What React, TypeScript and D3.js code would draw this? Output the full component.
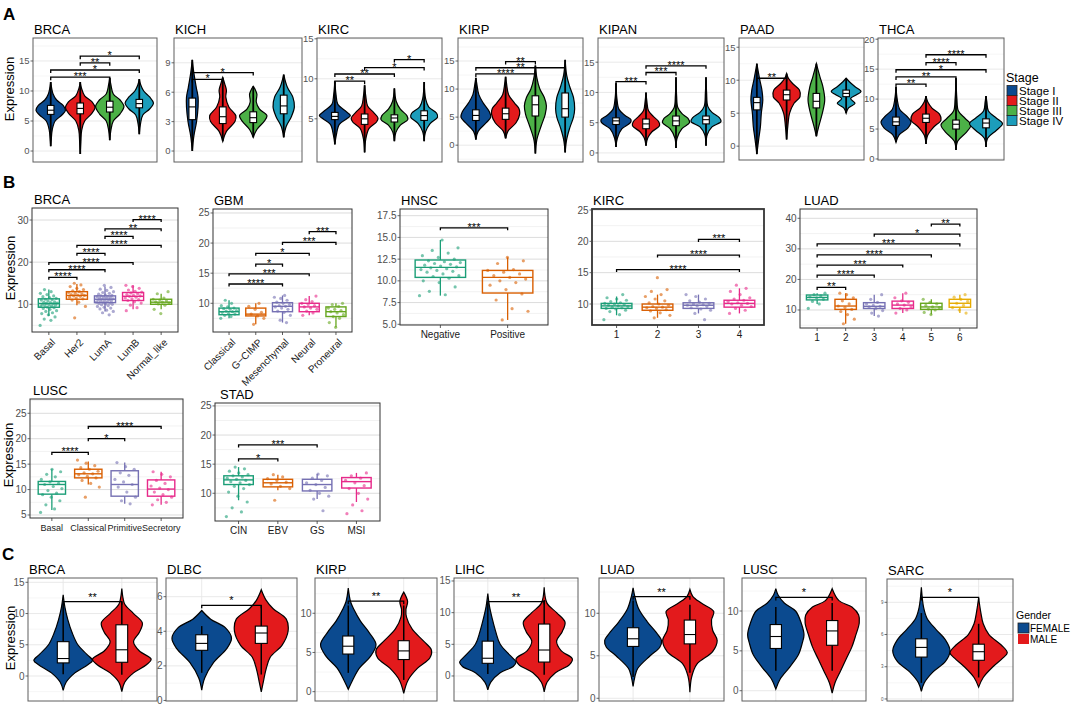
import React from "react";
import * as d3 from "d3";

type Prof = [number, number][];
type Box3 = [number, number, number];
type Br = [number, number, number, string];
type Lay = { x0: number; x1: number; y0: number; y1: number; domain: [number, number] };

const FONT = "'Liberation Sans', Arial, Helvetica, sans-serif";

// ---------- shared categories / colours ----------
const STAGES = ["Stage I", "Stage II", "Stage III", "Stage IV"];
const STAGE_COLORS = ["#0b4a8f", "#e31a1c", "#4cb147", "#1c9dbb"];
const GENDERS = ["FEMALE", "MALE"];
const GENDER_COLORS = ["#0b4a8f", "#e31a1c"];
const DARK2 = ["#1b9e77", "#d95f02", "#7570b3", "#e7298a", "#66a61e", "#e6ab02"];

// ================= PANEL A (stage, violins) =================
const aTitles = ["BRCA", "KICH", "KIRC", "KIRP", "KIPAN", "PAAD", "THCA"];
const aTicks = [[0, 5, 10, 15], [0, 3, 6, 9], [5, 10, 15], [0, 5, 10, 15], [0, 5, 10, 15], [0, 5, 10, 15], [0, 5, 10, 15, 20]];

const aBrcaShapes: Prof[] = [
  [[0.8, 0], [2, 0.02], [3.5, 0.05], [5, 0.15], [6, 0.38], [6.8, 0.5], [7.6, 0.42], [8.5, 0.2], [9.5, 0.08], [11.5, 0]],
  [[-0.5, 0], [1.5, 0.02], [3.5, 0.05], [5, 0.15], [6.2, 0.38], [7.2, 0.5], [8.2, 0.4], [9.2, 0.15], [10.5, 0.04], [11.5, 0]],
  [[1.8, 0], [3.5, 0.04], [5, 0.12], [6.2, 0.35], [7.4, 0.48], [8.5, 0.35], [9.5, 0.12], [11, 0.04], [12.2, 0]],
  [[2.8, 0], [4.5, 0.04], [6, 0.12], [7, 0.35], [8, 0.48], [9, 0.35], [10, 0.15], [11, 0.05], [12, 0]],
];
const aBrcaBoxes: Box3[] = [[6.1, 6.8, 7.6], [6.2, 7.1, 8.0], [6.5, 7.3, 8.3], [7.2, 7.9, 8.6]];
const aBrcaBrackets: Br[] = [[0, 2, 12.3, "***"], [0, 3, 13.5, "*"], [1, 2, 14.7, "**"], [1, 3, 15.8, "*"]];

const aKichShapes: Prof[] = [
  [[0, 0], [1.5, 0.05], [3, 0.14], [4.5, 0.19], [5.5, 0.19], [6.5, 0.13], [8, 0.05], [9.3, 0]],
  [[1, 0], [2, 0.12], [3, 0.4], [3.6, 0.43], [4.5, 0.2], [5.5, 0.1], [6.2, 0.12], [6.8, 0.07], [7.5, 0]],
  [[1.4, 0], [2.2, 0.12], [3, 0.35], [3.6, 0.45], [4.3, 0.2], [5, 0.1], [5.8, 0.12], [6.3, 0.06], [6.6, 0]],
  [[1.4, 0], [2.5, 0.08], [3.5, 0.25], [4.5, 0.35], [5.5, 0.3], [6.5, 0.12], [7.8, 0]],
];
const aKichBoxes: Box3[] = [[3.2, 4.5, 5.4], [2.8, 3.5, 4.5], [2.9, 3.4, 4.0], [3.8, 4.6, 5.7]];
const aKichBrackets: Br[] = [[0, 1, 7.3, "*"], [0, 2, 8.0, "*"]];

const aKircShapes: Prof[] = [
  [[1.8, 0], [3, 0.05], [4.3, 0.15], [5, 0.4], [5.4, 0.52], [6, 0.35], [6.8, 0.1], [8, 0.04], [9.7, 0]],
  [[0.8, 0], [2.5, 0.04], [3.8, 0.15], [4.6, 0.4], [5.1, 0.45], [5.8, 0.3], [6.6, 0.1], [7.8, 0.04], [9.2, 0]],
  [[2.2, 0], [3.3, 0.05], [4.2, 0.2], [4.9, 0.45], [5.4, 0.42], [6.2, 0.2], [7.2, 0.06], [8.8, 0]],
  [[2.2, 0], [3.4, 0.05], [4.4, 0.2], [5.2, 0.45], [5.7, 0.42], [6.5, 0.15], [7.5, 0.05], [9.6, 0]],
];
const aKircBoxes: Box3[] = [[4.9, 5.3, 5.8], [4.3, 5.0, 5.6], [4.6, 5.1, 5.5], [4.8, 5.4, 6.0]];
const aKircBrackets: Br[] = [[0, 1, 9.7, "**"], [0, 2, 10.6, "**"], [1, 3, 11.4, "*"], [2, 3, 12.4, "*"]];

const aKirpShapes: Prof[] = [
  [[1, 0], [2.5, 0.08], [4, 0.35], [5, 0.5], [6, 0.45], [7.5, 0.25], [9, 0.1], [11, 0.03], [12, 0]],
  [[1.2, 0], [2.5, 0.08], [4, 0.35], [5.5, 0.47], [6.5, 0.45], [7.5, 0.3], [9, 0.1], [11, 0.03], [12.2, 0]],
  [[-1.5, 0], [1, 0.05], [3.5, 0.2], [5.5, 0.33], [7, 0.37], [8.5, 0.3], [10, 0.15], [12, 0.05], [14.2, 0]],
  [[-1.3, 0], [1, 0.05], [3, 0.15], [5, 0.28], [6.5, 0.32], [8.5, 0.28], [10.5, 0.15], [12.5, 0.05], [15.2, 0]],
];
const aKirpBoxes: Box3[] = [[4.4, 5.3, 6.3], [4.6, 5.6, 6.6], [5.2, 7.2, 8.8], [5.0, 6.5, 9.3]];
const aKirpBrackets: Br[] = [[0, 2, 12.7, "****"], [0, 3, 13.8, "**"], [1, 2, 14.9, "**"]];

const aKipanShapes: Prof[] = [
  [[1, 0], [2.5, 0.05], [4, 0.2], [5, 0.48], [5.5, 0.5], [6.2, 0.3], [7.2, 0.1], [9, 0.03], [11.5, 0]],
  [[1.2, 0], [2.5, 0.06], [3.5, 0.2], [4.5, 0.45], [5.2, 0.42], [6, 0.25], [7, 0.08], [8.5, 0.03], [10, 0]],
  [[0.8, 0], [2.5, 0.04], [4, 0.2], [5, 0.45], [5.7, 0.4], [6.5, 0.2], [7.5, 0.06], [9.5, 0.02], [12.5, 0]],
  [[1.2, 0], [3, 0.04], [4.3, 0.2], [5.2, 0.5], [5.8, 0.45], [6.7, 0.2], [7.7, 0.06], [10, 0.02], [12.5, 0]],
];
const aKipanBoxes: Box3[] = [[4.7, 5.3, 5.8], [4.0, 4.8, 5.6], [4.5, 5.3, 6.1], [4.8, 5.5, 6.1]];
const aKipanBrackets: Br[] = [[0, 1, 11.8, "***"], [1, 2, 13.3, "***"], [1, 3, 14.4, "****"]];

const aPaadShapes: Prof[] = [
  [[-1.2, 0], [1, 0.06], [3, 0.12], [5, 0.15], [7, 0.2], [8.5, 0.17], [10, 0.1], [12.5, 0]],
  [[1, 0], [3, 0.04], [5, 0.1], [6.5, 0.25], [7.5, 0.45], [8.5, 0.43], [9.5, 0.2], [10.3, 0.06], [11, 0]],
  [[1.5, 0], [3, 0.08], [5, 0.2], [7, 0.28], [9, 0.22], [10.5, 0.12], [12.5, 0]],
  [[5, 0], [5.8, 0.08], [6.5, 0.3], [7.2, 0.15], [7.8, 0.35], [8.3, 0.5], [9, 0.3], [9.8, 0.1], [10.3, 0]],
];
const aPaadBoxes: Box3[] = [[5.5, 6.6, 7.4], [7.0, 7.8, 8.5], [5.8, 6.8, 8.0], [7.5, 8.0, 8.5]];
const aPaadBrackets: Br[] = [[0, 1, 10.3, "**"]];

const aThcaShapes: Prof[] = [
  [[2.8, 0], [4, 0.1], [5.2, 0.4], [6.2, 0.5], [7.2, 0.35], [8.3, 0.12], [10, 0.04], [12, 0]],
  [[2.5, 0], [4, 0.06], [5.3, 0.25], [6.5, 0.5], [7.5, 0.45], [8.5, 0.2], [9.5, 0.06], [10.5, 0]],
  [[1.5, 0], [3, 0.06], [4.5, 0.35], [5.7, 0.5], [6.8, 0.3], [8, 0.08], [10, 0.03], [13.5, 0]],
  [[2, 0], [3.5, 0.06], [4.8, 0.35], [5.9, 0.55], [6.8, 0.35], [8, 0.08], [9.5, 0.03], [10.5, 0]],
];
const aThcaBoxes: Box3[] = [[5.6, 6.2, 7.0], [6.1, 6.8, 7.5], [5.0, 5.8, 6.5], [5.2, 6.0, 6.7]];
const aThcaBrackets: Br[] = [[0, 1, 12.5, "**"], [0, 2, 13.7, "**"], [0, 3, 14.9, "*"], [1, 2, 16.1, "****"], [1, 3, 17.4, "****"]];

const aShapes = [aBrcaShapes, aKichShapes, aKircShapes, aKirpShapes, aKipanShapes, aPaadShapes, aThcaShapes];
const aBoxes = [aBrcaBoxes, aKichBoxes, aKircBoxes, aKirpBoxes, aKipanBoxes, aPaadBoxes, aThcaBoxes];
const aBrackets = [aBrcaBrackets, aKichBrackets, aKircBrackets, aKirpBrackets, aKipanBrackets, aPaadBrackets, aThcaBrackets];

// ================= PANEL B (subtypes, box + jitter) =================
const bBrcaCats = ["Basal", "Her2", "LumA", "LumB", "Normal_like"];
const bBrcaBoxes: Box3[] = [[9.3, 10.2, 11.3], [11.2, 12.1, 13.0], [10.4, 11.2, 12.0], [10.9, 11.9, 12.8], [10.0, 10.5, 11.2]];
const bBrcaWhisk: [number, number][] = [[7.2, 13.5], [9.8, 14.8], [8.3, 14.2], [8.8, 14.5], [8.8, 12.5]];
const bBrcaPoints: number[][] = [
  [5, 6.2, 6.5, 7, 7.5, 7.8, 8, 8.3, 8.5, 8.8, 9, 9.2, 9.3, 9.5, 9.6, 9.7, 9.8, 9.9, 10, 10.1, 10.2, 10.3, 10.4, 10.5, 10.6, 10.8, 11, 11.1, 11.2, 11.4, 11.6, 11.8, 12, 12.3, 12.6, 13, 13.5],
  [6.8, 9.5, 10.5, 11, 11.3, 11.5, 11.7, 11.9, 12, 12.1, 12.2, 12.3, 12.5, 12.6, 12.8, 13, 13.2, 13.5, 13.8, 14.2, 14.6, 15],
  [7.5, 8, 8.3, 8.6, 8.9, 9.1, 9.3, 9.5, 9.7, 9.9, 10, 10.1, 10.2, 10.3, 10.4, 10.5, 10.6, 10.7, 10.8, 10.9, 11, 11.1, 11.2, 11.3, 11.4, 11.5, 11.6, 11.7, 11.8, 11.9, 12, 12.1, 12.2, 12.4, 12.6, 12.8, 13, 13.3, 13.6, 14, 14.5],
  [8.5, 9.2, 9.8, 10.3, 10.6, 10.9, 11.1, 11.3, 11.5, 11.7, 11.9, 12, 12.1, 12.3, 12.5, 12.7, 12.9, 13.1, 13.4, 13.8, 14.2, 14.5],
  [7.8, 8.8, 9.8, 10.1, 10.3, 10.5, 10.6, 10.8, 11, 11.2, 11.5, 12.5, 13],
];
const bBrcaBrackets: Br[] = [[0, 1, 16.4, "****"], [0, 2, 18.2, "****"], [0, 3, 19.9, "****"], [1, 2, 22.1, "****"], [1, 4, 24.0, "****"], [2, 3, 26.1, "****"], [2, 4, 27.9, "**"], [3, 4, 30.1, "****"]];

const bGbmCats = ["Classical", "G\u2212CIMP", "Mesenchymal", "Neural", "Proneural"];
const bGbmBoxes: Box3[] = [[8.1, 8.6, 9.2], [7.9, 8.2, 9.2], [8.6, 9.5, 10.1], [8.6, 9.4, 10.0], [7.8, 8.6, 9.4]];
const bGbmWhisk: [number, number][] = [[7.5, 10.5], [6.5, 10], [6.8, 11.3], [8, 11.2], [6, 10]];
const bGbmPoints: number[][] = [
  [7.5, 7.8, 8, 8.2, 8.3, 8.5, 8.6, 8.7, 8.8, 9, 9.1, 9.2, 9.4, 9.6, 10, 10.5],
  [6.5, 7.5, 7.9, 8.2, 8.5, 9, 9.5, 10],
  [6.8, 7.2, 8, 8.5, 8.7, 9, 9.2, 9.4, 9.5, 9.6, 9.8, 10, 10.2, 10.5, 10.8, 11, 11.3],
  [8, 8.4, 8.7, 9, 9.2, 9.4, 9.6, 9.8, 10, 10.3, 10.6, 11.2],
  [6, 6.8, 7.5, 7.8, 8.1, 8.4, 8.6, 8.8, 9, 9.2, 9.5, 9.8, 10],
];
const bGbmBrackets: Br[] = [[0, 2, 13.2, "****"], [0, 3, 14.9, "***"], [1, 2, 16.5, "*"], [1, 3, 18.3, "*"], [2, 4, 20.1, "***"], [3, 4, 21.9, "***"]];

const bHnscCats = ["Negative", "Positive"];
const bHnscBoxes: Box3[] = [[10.4, 11.55, 12.4], [8.6, 10.4, 11.2]];
const bHnscWhisk: [number, number][] = [[8.3, 14.7], [5.5, 12.7]];
const bHnscPoints: number[][] = [
  [8.3, 8.4, 8.8, 9.3, 9.8, 10, 10.3, 10.5, 10.6, 10.8, 11, 11.1, 11.2, 11.3, 11.4, 11.5, 11.6, 11.7, 11.8, 11.9, 12, 12.1, 12.2, 12.3, 12.5, 12.7, 12.9, 13.2, 13.5, 13.8, 14.7],
  [5.5, 6.5, 6.8, 7.8, 8.5, 9, 9.5, 9.8, 10, 10.2, 10.4, 10.6, 10.8, 11, 11.2, 11.3, 12, 12.3, 12.7],
];
const bHnscBrackets: Br[] = [[0, 1, 16.1, "***"]];

const bKircCats = ["1", "2", "3", "4"];
const bKircBoxes: Box3[] = [[9.3, 9.7, 10.1], [9.0, 9.5, 10.0], [9.3, 9.8, 10.2], [9.5, 10.1, 10.6]];
const bKircWhisk: [number, number][] = [[8.2, 11.2], [7.8, 11.5], [8.5, 11.5], [8.5, 12.5]];
const bKircPoints: number[][] = [
  [7.5, 8.3, 8.8, 9, 9.2, 9.3, 9.4, 9.5, 9.6, 9.7, 9.8, 9.9, 10, 10.1, 10.2, 10.4, 10.6, 10.8, 11, 11.5],
  [7.8, 8.2, 8.6, 8.9, 9.1, 9.3, 9.4, 9.5, 9.6, 9.8, 10, 10.2, 10.5, 10.8, 11.2, 11.5, 12, 12.3, 14.2],
  [7.5, 8.5, 9, 9.2, 9.4, 9.6, 9.7, 9.8, 9.9, 10, 10.1, 10.3, 10.5, 10.8, 11.2, 11.5],
  [8.5, 9, 9.3, 9.6, 9.8, 10, 10.1, 10.2, 10.4, 10.6, 10.8, 11, 11.5, 12, 12.5, 13],
];
const bKircBrackets: Br[] = [[0, 3, 15.5, "****"], [1, 3, 17.8, "****"], [2, 3, 20.3, "***"]];

const bLuadCats = ["1", "2", "3", "4", "5", "6"];
const bLuadBoxes: Box3[] = [[13.3, 14.1, 14.9], [10.2, 11.3, 13.5], [10.5, 11.2, 12.4], [10.5, 11.6, 12.9], [10.2, 11.0, 12.2], [10.9, 12.2, 13.5]];
const bLuadWhisk: [number, number][] = [[12, 15.5], [5.5, 15.5], [8, 15], [9, 15.5], [8.5, 13.5], [9, 15]];
const bLuadPoints: number[][] = [
  [10.5, 12, 12.8, 13.5, 14, 14.3, 14.6, 15, 15.5],
  [5.5, 7, 8.5, 9.5, 10.2, 10.8, 11.3, 12, 13, 14, 15, 15.5],
  [8, 9, 9.8, 10.5, 11, 11.2, 11.5, 12, 12.5, 13.5, 15],
  [9, 10, 10.5, 11, 11.6, 12, 12.5, 13, 14, 15.5],
  [8.5, 9.2, 10, 10.3, 10.8, 11, 11.5, 12, 12.5, 13.5],
  [9, 10, 10.8, 11.5, 12.2, 12.8, 13.5, 14.2, 15],
];
const bLuadBrackets: Br[] = [[0, 1, 17.4, "**"], [0, 2, 21.4, "****"], [0, 3, 24.7, "***"], [0, 4, 28.0, "****"], [0, 5, 31.6, "***"], [2, 5, 34.8, "*"], [4, 5, 38.1, "**"]];

const bLuscCats = ["Basal", "Classical", "Primitive", "Secretory"];
const bLuscBoxes: Box3[] = [[9.1, 11.0, 11.6], [12.3, 13.1, 14.0], [8.7, 11.0, 13.7], [8.7, 10.1, 11.9]];
const bLuscWhisk: [number, number][] = [[6, 14], [11, 15.5], [7.2, 15.3], [7, 13.5]];
const bLuscPoints: number[][] = [
  [5.5, 6.2, 7, 7.8, 8.5, 9, 9.3, 9.8, 10.2, 10.6, 11, 11.2, 11.5, 12, 12.5, 13, 13.5, 14],
  [8.5, 10.5, 11.2, 11.8, 12.3, 12.6, 12.9, 13.1, 13.3, 13.6, 14, 14.3, 14.7, 15.2, 15.8],
  [7.2, 7.8, 8.5, 9.5, 10.5, 11, 11.5, 12, 12.8, 13.3, 14, 14.5, 15.3],
  [7, 7.5, 8, 8.5, 9, 9.5, 10, 10.3, 10.7, 11.2, 11.8, 12.5, 13, 13.5],
];
const bLuscBrackets: Br[] = [[0, 1, 17.3, "****"], [1, 2, 20.0, "*"], [1, 3, 22.4, "****"]];

const bStadCats = ["CIN", "EBV", "GS", "MSI"];
const bStadBoxes: Box3[] = [[11.5, 12.3, 13.0], [11.1, 11.8, 12.4], [10.4, 11.5, 12.4], [10.9, 12.0, 12.7]];
const bStadWhisk: [number, number][] = [[8.8, 14.5], [10.5, 13.2], [9, 13.3], [8.5, 13.5]];
const bStadPoints: number[][] = [
  [6, 6.8, 7.5, 8.5, 9.5, 10.2, 10.8, 11.2, 11.5, 11.8, 12, 12.2, 12.4, 12.6, 12.8, 13, 13.2, 13.5, 13.8, 14.2, 14.5],
  [8.8, 10.8, 11.2, 11.6, 11.9, 12.2, 12.5, 12.8, 13.2],
  [7, 9, 9.5, 10, 10.5, 11, 11.5, 11.8, 12.2, 12.6, 13, 13.3],
  [6.5, 7, 8, 9, 10, 10.8, 11.3, 11.8, 12.2, 12.6, 13, 13.5],
];
const bStadBrackets: Br[] = [[0, 1, 15.9, "*"], [0, 2, 18.3, "***"]];

// ================= PANEL C (gender, violins) =================
const cTitles = ["BRCA", "DLBC", "KIRP", "LIHC", "LUAD", "LUSC", "SARC"];
const cTicks = [[0, 5, 10, 15], [0, 2, 4, 6], [0, 5, 10], [0, 5, 10, 15], [0, 5, 10], [0, 5, 10], [0, 3, 6, 9]];
const cShapes: Prof[][] = [
  [
    [[-2.3, 0], [-1, 0.05], [0.5, 0.2], [1.8, 0.42], [2.5, 0.5], [3.5, 0.4], [5, 0.25], [7, 0.15], [9, 0.08], [11, 0.03], [13, 0]],
    [[-2.5, 0], [-1, 0.05], [0.5, 0.2], [1.8, 0.42], [2.7, 0.5], [4, 0.3], [5.5, 0.2], [7, 0.3], [8.5, 0.35], [10, 0.2], [11.5, 0.05], [12.5, 0.02], [14, 0]],
  ],
  [
    [[0.6, 0], [1.3, 0.05], [2.2, 0.2], [3, 0.42], [3.6, 0.5], [4.2, 0.4], [4.7, 0.15], [5.2, 0]],
    [[0.5, 0], [1, 0.03], [1.8, 0.08], [2.5, 0.15], [3.2, 0.35], [4, 0.45], [4.7, 0.42], [5.3, 0.2], [5.8, 0.08], [6.4, 0]],
  ],
  [
    [[0.3, 0], [1.5, 0.08], [3, 0.2], [4.5, 0.4], [6, 0.5], [7.5, 0.38], [9, 0.22], [10.5, 0.1], [11.5, 0.04], [13.2, 0]],
    [[-0.2, 0], [1.5, 0.08], [3, 0.25], [4.3, 0.47], [5.3, 0.5], [6.5, 0.35], [8, 0.15], [9.5, 0.05], [10.5, 0.04], [11.5, 0.07], [12.7, 0]],
  ],
  [
    [[-2.2, 0], [-1, 0.05], [0.5, 0.22], [1.5, 0.45], [2.2, 0.5], [3.2, 0.4], [5, 0.22], [7, 0.14], [9, 0.08], [11, 0.03], [13, 0]],
    [[-2.5, 0], [-1, 0.05], [0.5, 0.2], [1.8, 0.45], [2.7, 0.5], [4, 0.3], [5.5, 0.22], [7, 0.32], [8.5, 0.37], [10, 0.22], [11.5, 0.05], [14, 0]],
  ],
  [
    [[1.4, 0], [2.5, 0.03], [3.5, 0.08], [5, 0.3], [6, 0.47], [6.8, 0.5], [7.8, 0.4], [9, 0.25], [10.5, 0.1], [12, 0.03], [13, 0]],
    [[0.7, 0], [2.5, 0.03], [4, 0.12], [5.5, 0.4], [6.8, 0.48], [8, 0.4], [9.2, 0.38], [10.2, 0.42], [11.2, 0.2], [12, 0.05], [12.8, 0]],
  ],
  [
    [[0.2, 0], [1.5, 0.08], [3, 0.25], [4.5, 0.4], [6, 0.47], [7, 0.5], [8.5, 0.45], [10, 0.35], [11, 0.15], [12, 0.04], [12.8, 0]],
    [[-0.3, 0], [1, 0.05], [2.5, 0.15], [4, 0.25], [5.5, 0.35], [7, 0.42], [8.5, 0.48], [9.5, 0.47], [10.5, 0.35], [11.3, 0.12], [12.8, 0]],
  ],
  [
    [[0.7, 0], [1.5, 0.05], [2.5, 0.2], [3.5, 0.42], [4.5, 0.5], [5.5, 0.42], [6.5, 0.25], [7.5, 0.1], [8.5, 0.04], [10.4, 0]],
    [[1.1, 0], [2, 0.08], [3, 0.25], [3.8, 0.42], [4.3, 0.5], [5, 0.4], [6, 0.18], [7, 0.08], [8, 0.04], [9.4, 0]],
  ],
];
const cBoxes: Box3[][] = [
  [[2.1, 2.8, 5.5], [2.2, 4.2, 8.2]],
  [[2.9, 3.3, 3.8], [3.3, 3.9, 4.3]],
  [[4.8, 5.8, 7.1], [4.1, 5.2, 6.5]],
  [[2.0, 2.8, 5.5], [2.2, 4.1, 8.2]],
  [[6.1, 7.0, 8.3], [6.4, 7.5, 9.2]],
  [[5.3, 6.8, 8.3], [5.7, 7.5, 8.8]],
  [[3.9, 4.8, 5.6], [3.6, 4.4, 5.1]],
];
const cWhisk: [number, number][][] = [
  [[0.3, 11.6], [0.2, 11.9]],
  [[1.6, 4.3], [1.5, 5.5]],
  [[2.4, 11], [1.5, 11]],
  [[0.3, 11.5], [0.2, 12]],
  [[2.5, 11.5], [3, 11]],
  [[2.5, 10.5], [2.5, 11]],
  [[1.5, 8], [2, 7]],
];
const cBrackets: Br[][] = [
  [[0, 1, 11.9, "**"]], [[0, 1, 5.5, "*"]], [[0, 1, 11.55, "**"]], [[0, 1, 11.75, "**"]],
  [[0, 1, 11.95, "**"]], [[0, 1, 11.7, "*"]], [[0, 1, 9.45, "*"]],
];

// ================= layout (positions only) =================
const aLayout: Lay[] = [
  { x0: 33, x1: 157, y0: 38, y1: 162, domain: [-1.83, 18.83] },
  { x0: 174, x1: 302, y0: 38, y1: 162, domain: [-1.12, 11.53] },
  { x0: 317, x1: 442, y0: 38, y1: 162, domain: [-0.4, 15.1] },
  { x0: 458, x1: 583, y0: 38, y1: 162, domain: [-3.0, 19.1] },
  { x0: 598, x1: 724, y0: 38, y1: 162, domain: [-1.5, 19.0] },
  { x0: 739, x1: 864, y0: 38, y1: 160, domain: [-2.1, 16.4] },
  { x0: 878, x1: 1004, y0: 38, y1: 160, domain: [-0.17, 20.2] },
];
const cLayout: Lay[] = [
  { x0: 28, x1: 157, y0: 578, y1: 701, domain: [-4.0, 15.69] },
  { x0: 166, x1: 297, y0: 578, y1: 701, domain: [-0.03, 7.08] },
  { x0: 315, x1: 437, y0: 578, y1: 701, domain: [-1.19, 14.5] },
  { x0: 454, x1: 578, y0: 578, y1: 701, domain: [-3.95, 15.47] },
  { x0: 599, x1: 724, y0: 578, y1: 701, domain: [-0.32, 14.15] },
  { x0: 742, x1: 866, y0: 578, y1: 701, domain: [-1.29, 14.14] },
  { x0: 887, x1: 1013, y0: 579, y1: 701, domain: [-0.19, 11.17] },
];

function minorOf(ticks: number[], domain: [number, number]) {
  const d = ticks[1] - ticks[0];
  const out: number[] = [];
  for (let v = ticks[0] - d / 2; v <= domain[1]; v += d) if (v >= domain[0]) out.push(v);
  return out;
}

function Bracket({ xa, xb, y, label, starDy, tick }: { xa: number; xb: number; y: number; label: string; starDy: number; tick: number }) {
  return (
    <g>
      <path d={`M${xa},${y + tick}V${y}H${xb}V${y + tick}`} fill="none" stroke="#000" strokeWidth={1.3} />
      <text x={(xa + xb) / 2} y={y + starDy} fontSize={11} textAnchor="middle" fill="#000">{label}</text>
    </g>
  );
}

function YAxis({ L, ys, ticks, fs, fmt, color }: { L: Lay; ys: d3.ScaleLinear<number, number>; ticks: number[]; fs: number; fmt: (v: number) => string; color: string }) {
  return (
    <g>
      {ticks.map((t) => (
        <g key={t}>
          <line x1={L.x0 - 2.5} x2={L.x0} y1={ys(t)} y2={ys(t)} stroke="#444" strokeWidth={0.8} />
          <text x={L.x0 - 3.5} y={ys(t)} dy="0.35em" fontSize={fs} textAnchor="end" fill={color}>{fmt(t)}</text>
        </g>
      ))}
    </g>
  );
}

function ViolinPanel(p: {
  L: Lay; title: string; ticks: number[]; shapes: Prof[]; boxes: Box3[]; whisk?: [number, number][];
  brackets: Br[]; cats: string[]; colors: string[]; vgrid: boolean; tickFs: number; starDy: number; boxW: number; tailW: number;
}) {
  const { L } = p;
  const ys = d3.scaleLinear().domain(L.domain).range([L.y1, L.y0]);
  const xs = d3.scalePoint<string>().domain(p.cats).range([L.x0, L.x1]).padding(0.6);
  const step = xs.step();
  const minor = minorOf(p.ticks, L.domain);
  const fmt = d3.format("");
  return (
    <g>
      <rect x={L.x0} y={L.y0} width={L.x1 - L.x0} height={L.y1 - L.y0} fill="#fff" />
      {minor.map((v) => (
        <line key={"m" + v} x1={L.x0} x2={L.x1} y1={ys(v)} y2={ys(v)} stroke="#f2f2f2" strokeWidth={0.7} />
      ))}
      {p.ticks.map((v) => (
        <line key={"g" + v} x1={L.x0} x2={L.x1} y1={ys(v)} y2={ys(v)} stroke="#e6e6e6" strokeWidth={0.9} />
      ))}
      {p.vgrid && p.cats.map((c) => (
        <line key={"v" + c} x1={xs(c)!} x2={xs(c)!} y1={L.y0} y2={L.y1} stroke="#e6e6e6" strokeWidth={0.9} />
      ))}
      {p.shapes.map((s, i) => {
        const cx = xs(p.cats[i])!;
        const area = d3.area<[number, number]>()
          .y((d) => ys(d[0]))
          .x0((d) => cx - d[1] * step)
          .x1((d) => cx + d[1] * step)
          .curve(d3.curveCatmullRom.alpha(0.5));
        const b = p.boxes[i];
        const w = p.whisk ? p.whisk[i] : [s[0][0], s[s.length - 1][0]];
        const bw = p.boxW * step;
        return (
          <g key={i}>
            <path d={area(s) || ""} fill={p.colors[i]} stroke="#000" strokeWidth={1.2} />
            <line x1={cx} x2={cx} y1={ys(w[0])} y2={ys(w[1])} stroke="#000" strokeWidth={p.tailW} />
            <rect x={cx - bw / 2} y={ys(b[2])} width={bw} height={ys(b[0]) - ys(b[2])} fill="#fff" stroke="#000" strokeWidth={1.1} />
            <line x1={cx - bw / 2} x2={cx + bw / 2} y1={ys(b[1])} y2={ys(b[1])} stroke="#000" strokeWidth={1.1} />
          </g>
        );
      })}
      {p.brackets.map((br, k) => (
        <Bracket key={k} xa={xs(p.cats[br[0]])!} xb={xs(p.cats[br[1]])!} y={ys(br[2])} label={br[3]} starDy={p.starDy} tick={3} />
      ))}
      <rect x={L.x0} y={L.y0} width={L.x1 - L.x0} height={L.y1 - L.y0} fill="none" stroke="#5e5e5e" strokeWidth={1} />
      <YAxis L={L} ys={ys} ticks={p.ticks} fs={p.tickFs} fmt={fmt} color="#555" />
      <text x={L.x0 + 1} y={L.y0 - 4} fontSize={13} fill="#000">{p.title}</text>
    </g>
  );
}

function BoxPanel(p: {
  L: Lay; title: string; titleX: number; ticks: number[]; fmt: (v: number) => string; cats: string[]; rotate: boolean;
  boxes: Box3[]; whisk: [number, number][]; points: number[][]; brackets: Br[]; frameW: number; labelFs?: number;
}) {
  const { L } = p;
  const ys = d3.scaleLinear().domain(L.domain).range([L.y1, L.y0]);
  const xs = d3.scalePoint<string>().domain(p.cats).range([L.x0, L.x1]).padding(0.6);
  const step = xs.step();
  const minor = minorOf(p.ticks, L.domain);
  const bw = 0.75 * step;
  const lfs = p.labelFs ?? 10;
  return (
    <g>
      <rect x={L.x0} y={L.y0} width={L.x1 - L.x0} height={L.y1 - L.y0} fill="#fff" />
      {minor.map((v) => (
        <line key={"m" + v} x1={L.x0} x2={L.x1} y1={ys(v)} y2={ys(v)} stroke="#ececec" strokeWidth={0.7} />
      ))}
      {p.ticks.map((v) => (
        <line key={"g" + v} x1={L.x0} x2={L.x1} y1={ys(v)} y2={ys(v)} stroke="#dcdcdc" strokeWidth={1} />
      ))}
      {p.cats.map((c, i) => {
        const cx = xs(c)!;
        const col = DARK2[i];
        const b = p.boxes[i];
        const w = p.whisk[i];
        return (
          <g key={c}>
            {p.points[i].map((v, k) => (
              <circle key={k} cx={cx + (((k * 0.618034 + i * 0.37) % 1) - 0.5) * 0.62 * step} cy={ys(v)} r={1.6} fill={col} fillOpacity={0.6} />
            ))}
            <line x1={cx} x2={cx} y1={ys(w[0])} y2={ys(b[0])} stroke={col} strokeWidth={1.3} />
            <line x1={cx} x2={cx} y1={ys(b[2])} y2={ys(w[1])} stroke={col} strokeWidth={1.3} />
            <rect x={cx - bw / 2} y={ys(b[2])} width={bw} height={ys(b[0]) - ys(b[2])} fill="none" stroke={col} strokeWidth={1.4} />
            <line x1={cx - bw / 2} x2={cx + bw / 2} y1={ys(b[1])} y2={ys(b[1])} stroke={col} strokeWidth={1.4} />
            <line x1={cx} x2={cx} y1={L.y1} y2={L.y1 + 3} stroke="#333" strokeWidth={0.8} />
            {p.rotate ? (
              <text transform={`translate(${cx + 2},${L.y1 + 6}) rotate(-45)`} fontSize={lfs} textAnchor="end" dy="0.7em" fill="#1a1a1a">{c}</text>
            ) : (
              <text x={cx} y={L.y1 + 13} fontSize={lfs} textAnchor="middle" fill="#1a1a1a">{c}</text>
            )}
          </g>
        );
      })}
      {p.brackets.map((br, k) => (
        <Bracket key={k} xa={xs(p.cats[br[0]])!} xb={xs(p.cats[br[1]])!} y={ys(br[2])} label={br[3]} starDy={3} tick={2.5} />
      ))}
      <rect x={L.x0} y={L.y0} width={L.x1 - L.x0} height={L.y1 - L.y0} fill="none" stroke="#333" strokeWidth={p.frameW} />
      <YAxis L={L} ys={ys} ticks={p.ticks} fs={10} fmt={p.fmt} color="#4d4d4d" />
      <text x={p.titleX} y={L.y0 - 4} fontSize={13} fill="#000">{p.title}</text>
    </g>
  );
}

const int = d3.format("");
const one = d3.format(".1f");

export default function App() {
  return (
    <svg width={1072} height={705} style={{ position: "absolute", left: 0, top: 0 }} fontFamily={FONT}>
      <rect width={1072} height={705} fill="#fff" />
      {/* ---------- A ---------- */}
      <text x={3} y={20} fontSize={17} fontWeight="bold">A</text>
      <text transform="translate(14,89) rotate(-90)" fontSize={13} textAnchor="middle">Expression</text>
      {aLayout.map((L, i) => (
        <ViolinPanel key={i} L={L} title={aTitles[i]} ticks={aTicks[i]} shapes={aShapes[i]} boxes={aBoxes[i]}
          brackets={aBrackets[i]} cats={STAGES} colors={STAGE_COLORS} vgrid={false} tickFs={9.5} starDy={3} boxW={0.22} tailW={1.8} />
      ))}
      <text x={1006} y={82} fontSize={12.5}>Stage</text>
      {STAGES.map((s, i) => (
        <g key={s}>
          <rect x={1007} y={85.5 + i * 10} width={10} height={10} fill={STAGE_COLORS[i]} stroke="#222" strokeWidth={0.8} />
          <text x={1019} y={94.5 + i * 10} fontSize={11.5}>{s}</text>
        </g>
      ))}

      {/* ---------- B ---------- */}
      <text x={3} y={188} fontSize={17} fontWeight="bold">B</text>
      <text transform="translate(15,268) rotate(-90)" fontSize={13} textAnchor="middle">Expression</text>
      <BoxPanel L={{ x0: 32, x1: 178, y0: 208, y1: 332, domain: [3.43, 32.85] }} title="BRCA" titleX={34} ticks={[10, 20, 30]} fmt={int}
        cats={bBrcaCats} rotate boxes={bBrcaBoxes} whisk={bBrcaWhisk} points={bBrcaPoints} brackets={bBrcaBrackets} frameW={1} />
      <BoxPanel L={{ x0: 213, x1: 352, y0: 209, y1: 332, domain: [5.23, 25.66] }} title="GBM" titleX={214} ticks={[10, 15, 20, 25]} fmt={int}
        cats={bGbmCats} rotate boxes={bGbmBoxes} whisk={bGbmWhisk} points={bGbmPoints} brackets={bGbmBrackets} frameW={1} />
      <BoxPanel L={{ x0: 400, x1: 548, y0: 209, y1: 325, domain: [4.92, 18.27] }} title="HNSC" titleX={401} ticks={[5, 7.5, 10, 12.5, 15, 17.5]} fmt={one}
        cats={bHnscCats} rotate={false} boxes={bHnscBoxes} whisk={bHnscWhisk} points={bHnscPoints} brackets={bHnscBrackets} frameW={1} />
      <BoxPanel L={{ x0: 592, x1: 764, y0: 209, y1: 325, domain: [6.65, 25.16] }} title="KIRC" titleX={593} ticks={[10, 15, 20, 25]} fmt={int}
        cats={bKircCats} rotate={false} boxes={bKircBoxes} whisk={bKircWhisk} points={bKircPoints} brackets={bKircBrackets} frameW={1.8} />
      <BoxPanel L={{ x0: 800, x1: 977, y0: 209, y1: 328, domain: [4.11, 43.04] }} title="LUAD" titleX={804} ticks={[10, 20, 30, 40]} fmt={int}
        cats={bLuadCats} rotate={false} boxes={bLuadBoxes} whisk={bLuadWhisk} points={bLuadPoints} brackets={bLuadBrackets} frameW={1} />
      <text transform="translate(13,455) rotate(-90)" fontSize={13} textAnchor="middle">Expression</text>
      <BoxPanel L={{ x0: 30, x1: 183, y0: 399, y1: 518, domain: [4.41, 27.81] }} title="LUSC" titleX={33} ticks={[5, 10, 15, 20, 25]} fmt={int}
        cats={bLuscCats} rotate={false} boxes={bLuscBoxes} whisk={bLuscWhisk} points={bLuscPoints} brackets={bLuscBrackets} frameW={1} labelFs={9} />
      <BoxPanel L={{ x0: 215, x1: 380, y0: 403, y1: 521, domain: [5.24, 25.5] }} title="STAD" titleX={220} ticks={[10, 15, 20, 25]} fmt={int}
        cats={bStadCats} rotate={false} boxes={bStadBoxes} whisk={bStadWhisk} points={bStadPoints} brackets={bStadBrackets} frameW={1} />

      {/* ---------- C ---------- */}
      <text x={2} y={560} fontSize={17} fontWeight="bold">C</text>
      <text transform="translate(15,638) rotate(-90)" fontSize={13} textAnchor="middle">Expression</text>
      {cLayout.map((L, i) => (
        <ViolinPanel key={i} L={L} title={cTitles[i]} ticks={cTicks[i]} shapes={cShapes[i]} boxes={cBoxes[i]} whisk={cWhisk[i]}
          brackets={cBrackets[i]} cats={GENDERS} colors={GENDER_COLORS} vgrid tickFs={i === 6 ? 4.5 : 10} starDy={-1} boxW={0.2} tailW={1.5} />
      ))}
      <text x={1016} y={619} fontSize={10.5}>Gender</text>
      {GENDERS.map((g, i) => (
        <g key={g}>
          <rect x={1018} y={623 + i * 11} width={11} height={10} fill={GENDER_COLORS[i]} stroke={i === 0 ? "#222" : "none"} strokeWidth={0.8} />
          <text x={1030} y={632 + i * 11} fontSize={10}>{g}</text>
        </g>
      ))}
    </svg>
  );
}
